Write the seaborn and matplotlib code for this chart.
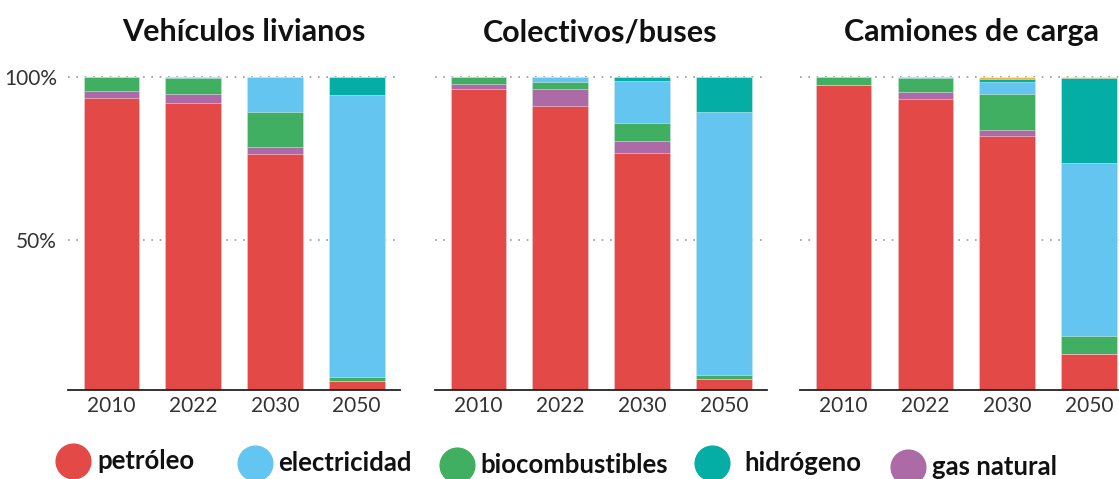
import pandas as pd
import numpy as np
import seaborn as sns
import matplotlib.pyplot as plt
from matplotlib.lines import Line2D

# Data (percent of energy use by source)
anios = ["2010", "2022", "2030", "2050"]
paneles = ["Vehículos livianos", "Colectivos/buses", "Camiones de carga"]
fuentes = ["petróleo", "gas natural", "biocombustibles", "electricidad", "hidrógeno", "otros"]

livianos = {
    "petróleo": [93.7, 92.1, 76.4, 6.7],
    "gas natural": [2.1, 2.6, 2.0, 0.0],
    "biocombustibles": [4.2, 5.0, 11.0, 1.4],
    "electricidad": [0.0, 0.3, 10.6, 86.3],
    "hidrógeno": [0.0, 0.0, 0.0, 5.6],
    "otros": [0.0, 0.0, 0.0, 0.0],
}
colectivos = {
    "petróleo": [96.2, 91.2, 76.8, 7.5],
    "gas natural": [1.7, 5.0, 3.6, 0.0],
    "biocombustibles": [2.1, 2.3, 5.4, 1.1],
    "electricidad": [0.0, 1.5, 13.1, 80.8],
    "hidrógeno": [0.0, 0.0, 1.1, 10.6],
    "otros": [0.0, 0.0, 0.0, 0.0],
}
camiones = {
    "petróleo": [97.5, 93.3, 81.8, 15.0],
    "gas natural": [0.0, 2.2, 2.0, 0.0],
    "biocombustibles": [2.5, 4.3, 11.0, 5.6],
    "electricidad": [0.0, 0.2, 3.6, 53.1],
    "hidrógeno": [0.0, 0.0, 1.1, 26.0],
    "otros": [0.0, 0.0, 0.5, 0.3],
}
datos = [livianos, colectivos, camiones]

colores = {
    "petróleo": "#E34A47",
    "gas natural": "#AC6AA6",
    "biocombustibles": "#41AF62",
    "electricidad": "#64C5F0",
    "hidrógeno": "#04AEA4",
    "otros": "#F2B33D",
}

sns.set_theme(style="white")
plt.rcParams["font.family"] = ["Lato", "DejaVu Sans"]

fig = plt.figure(figsize=(11.19, 4.79), dpi=100)

# axes placement (figure fractions)
lefts = [0.0608, 0.3889, 0.7151]
bottom, height, width = 0.1858, 0.6534, 0.2967
title_x = [0.218, 0.536, 0.868]

for i, (nombre, d) in enumerate(zip(paneles, datos)):
    ax = fig.add_axes([lefts[i], bottom, width, height])
    df = pd.DataFrame(d, index=anios)
    cum = df[fuentes].cumsum(axis=1)
    long = cum.reset_index().rename(columns={"index": "año"})
    # draw from top of stack down so lower segments sit on top
    for f in fuentes[::-1]:
        sns.barplot(data=long, x="año", y=f, color=colores[f], width=0.68,
                    saturation=1, edgecolor=(1, 1, 1, 0.5), linewidth=0.6,
                    ax=ax, zorder=2)

    for yv in [50, 100]:
        ax.axhline(yv, color="#999999", linestyle=(0, (1, 4)), linewidth=1.2,
                   clip_on=False, zorder=1)
    ax.set_ylim(4, 100)
    ax.set_xlim(-0.53, 3.53)
    ax.set_xlabel("")
    ax.set_ylabel("")
    for s in ["top", "right", "left"]:
        ax.spines[s].set_visible(False)
    ax.spines["bottom"].set_color("#222222")
    ax.spines["bottom"].set_linewidth(1.3)
    ax.tick_params(axis="x", length=0, pad=4, labelsize=15, labelcolor="#333333")
    if i == 0:
        ax.set_yticks([50, 100])
        ax.set_yticklabels(["50%", "100%"])
        ax.tick_params(axis="y", length=0, pad=8, labelsize=15, labelcolor="#333333")
    else:
        ax.set_yticks([])
    fig.text(title_x[i], 0.933, nombre, ha="center", va="center",
             fontsize=22, fontweight="bold", color="#111111")

# legend placed by hand like the original
leyenda = [
    ("petróleo", 73, 97, 461),
    ("electricidad", 255, 278, 463),
    ("biocombustibles", 457, 480, 465),
    ("hidrógeno", 712, 744, 463),
    ("gas natural", 908, 932, 467),
]
W, H = 1119, 479
for nombre, cx, tx, cy in leyenda:
    fig.add_artist(Line2D([cx / W], [1 - cy / H], marker="o", markersize=25,
                          color=colores[nombre], linestyle="none",
                          transform=fig.transFigure))
    fig.text(tx / W, 1 - cy / H, nombre, ha="left", va="center",
             fontsize=18.5, fontweight="bold", color="#111111")

fig.savefig("out.png", dpi=100)
